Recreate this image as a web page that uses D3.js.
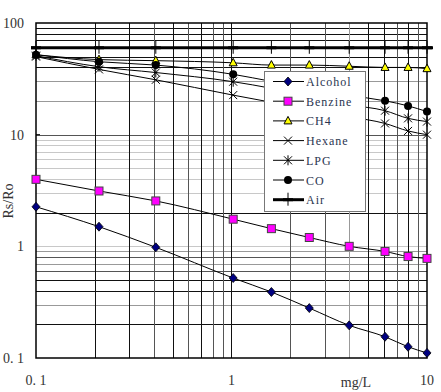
<!DOCTYPE html>
<html><head><meta charset="utf-8">
<script src="https://cdn.jsdelivr.net/npm/d3@7"></script>
<style>body{margin:0;background:#fff}svg{display:block}</style>
</head><body>
<script>
const concentrations = [0.1, 0.21, 0.41, 1.02, 1.6, 2.5, 4, 6.1, 8, 10];
const alcohol = [2.26, 1.50, 0.98, 0.52, 0.39, 0.28, 0.196, 0.155, 0.126, 0.111];
const benzine = [3.98, 3.13, 2.55, 1.75, 1.44, 1.20, 1.0, 0.90, 0.81, 0.78];
const ch4 = [52, 47, 46, 44, 42, 42, 41, 40, 40, 39];
const hexane = [50, 38.4, 31, 22.6, 19.5, 17, 14.5, 12.6, 10.8, 10];
const lpg = [51, 40.6, 36, 29.8, 26, 22, 18.5, 16.4, 14, 13.1];
const co = [52, 45, 42, 34.7, 30, 26, 22.5, 20.1, 18.1, 16.1];
const air = [60, 60, 60, 60, 60, 60, 60, 60, 60, 60];
const seriesNames = ["Alcohol", "Benzine", "CH4", "Hexane", "LPG", "CO", "Air"];
const xTickLabels = ["0. 1", "1", "10"];
const xTickValues = [0.1, 1, 10];
const yTickLabels = ["0. 1", "1", "10", "100"];
const yTickValues = [0.1, 1, 10, 100];
const yTitle = "Rs/Ro";
const xTitle = "mg/L";

const W = 441, H = 392;
const L = 36, R = 427, T = 23, B = 358;
const svg = d3.select("body").append("svg").attr("width", W).attr("height", H);
const x = d3.scaleLog().domain([0.1, 10]).range([L, R]);
const y = d3.scaleLog().domain([0.1, 100]).range([B, T]);

// grid styles
const dark = "#111", mid = "#555", light = "#999", faint = "#c8c8c8";
const vStyle = v => {
  const m = {0.2: dark, 0.3: dark, 0.4: mid, 0.5: dark, 0.6: mid, 0.7: dark, 0.8: mid, 0.9: mid,
             2: mid, 3: mid, 4: light, 5: dark, 6: dark, 7: mid, 8: dark, 9: mid};
  return m[+v.toPrecision(1)] || dark;
};
const hStyle = v => {
  const k = +v.toPrecision(1);
  if (v > 9.9 && v < 10.1) return mid;
  if (v >= 1 && v < 10) return k === 2 ? dark : faint;
  if (v >= 10) return (k === 20 || k === 30) ? light : dark;
  const m = {0.2: dark, 0.3: light, 0.4: dark, 0.5: dark, 0.6: mid, 0.7: light, 0.8: mid, 0.9: light};
  return m[k] || dark;
};
const gv = [];
[0.1, 1].forEach(d => { for (let i = 2; i <= 9; i++) gv.push(+(d * i).toPrecision(2)); });
gv.push(1);
const gh = [];
[0.1, 1, 10].forEach(d => { for (let i = 2; i <= 9; i++) gh.push(+(d * i).toPrecision(2)); });
gh.push(1, 10);

const grid = svg.append("g").attr("shape-rendering", "crispEdges");
grid.selectAll(".gh").data(gh).join("line")
  .attr("x1", L).attr("x2", R).attr("y1", d => Math.round(y(d)) + 0.5).attr("y2", d => Math.round(y(d)) + 0.5)
  .attr("stroke", d => hStyle(d)).attr("stroke-width", 1);
grid.selectAll(".gv").data(gv).join("line")
  .attr("y1", T).attr("y2", B).attr("x1", d => Math.round(x(d)) + 0.5).attr("x2", d => Math.round(x(d)) + 0.5)
  .attr("stroke", d => vStyle(d)).attr("stroke-width", 1);

// frame
svg.append("rect").attr("x", L).attr("y", T).attr("width", R - L).attr("height", B - T)
  .attr("fill", "none").attr("stroke", "#000").attr("stroke-width", 1.5);
svg.append("line").attr("x1", L).attr("x2", L + 4).attr("y1", y(10)).attr("y2", y(10)).attr("stroke", "#000");

// series
const serif = "'Liberation Serif','Times New Roman',serif";
const line = vals => d3.line().curve(d3.curveMonotoneX)
  .x((d, i) => x(concentrations[i])).y(d => y(d))(vals);
const dataSets = [alcohol, benzine, ch4, hexane, lpg, co];
const plot = svg.append("g");
dataSets.forEach(vals => {
  plot.append("path").attr("d", line(vals)).attr("fill", "none").attr("stroke", "#000").attr("stroke-width", 1);
});

function marker(g, type, cx, cy) {
  if (type === 0) {
    g.append("path").attr("d", `M${cx},${cy - 4.5}L${cx + 4},${cy}L${cx},${cy + 4.5}L${cx - 4},${cy}Z`)
      .attr("fill", "#000080").attr("stroke", "#000").attr("stroke-width", 0.8);
  } else if (type === 1) {
    g.append("rect").attr("x", cx - 4).attr("y", cy - 4).attr("width", 8).attr("height", 8)
      .attr("fill", "#ff00ff").attr("stroke", "#444").attr("stroke-width", 1);
  } else if (type === 2) {
    g.append("path").attr("d", `M${cx},${cy - 4.5}L${cx + 4},${cy + 3}L${cx - 4},${cy + 3}Z`)
      .attr("fill", "#ffff00").attr("stroke", "#000").attr("stroke-width", 1);
  } else if (type === 3) {
    g.append("path").attr("d", `M${cx - 4},${cy - 4}L${cx + 4},${cy + 4}M${cx - 4},${cy + 4}L${cx + 4},${cy - 4}`)
      .attr("stroke", "#000").attr("stroke-width", 1);
  } else if (type === 4) {
    g.append("path").attr("d", `M${cx - 4},${cy - 4}L${cx + 4},${cy + 4}M${cx - 4},${cy + 4}L${cx + 4},${cy - 4}M${cx},${cy - 5}L${cx},${cy + 5}`)
      .attr("stroke", "#000").attr("stroke-width", 1);
  } else if (type === 5) {
    g.append("circle").attr("cx", cx).attr("cy", cy).attr("r", 4).attr("fill", "#000");
  } else if (type === 6) {
    g.append("path").attr("d", `M${cx},${cy - 7}L${cx},${cy + 6}`).attr("stroke", "#000").attr("stroke-width", 1);
    g.append("path").attr("d", `M${cx - 5},${cy}L${cx + 5},${cy}`).attr("stroke", "#000").attr("stroke-width", 3);
  }
}
const allSets = [alcohol, benzine, ch4, hexane, lpg, co, air];
[0, 1, 2, 3, 4, 5].forEach(si => {
  allSets[si].forEach((v, i) => marker(plot, si, x(concentrations[i]), y(v)));
});
// Air thick line on top
plot.append("line").attr("x1", x(concentrations[0]) - 5).attr("x2", x(concentrations[concentrations.length - 1]) + 6)
  .attr("y1", y(air[0])).attr("y2", y(air[0])).attr("stroke", "#000").attr("stroke-width", 3);
air.forEach((v, i) => marker(plot, 6, x(concentrations[i]), y(v)));

// legend
const lg = svg.append("g");
lg.append("rect").attr("x", 264.5).attr("y", 71.5).attr("width", 101).attr("height", 140)
  .attr("fill", "#fff").attr("stroke", "#777").attr("stroke-width", 1);
seriesNames.forEach((n, i) => {
  const ly = 81.5 + i * 19.7;
  lg.append("line").attr("x1", 273).attr("x2", 304).attr("y1", ly).attr("y2", ly)
    .attr("stroke", "#000").attr("stroke-width", i === 6 ? 3 : 1);
  marker(lg, i, 288, ly);
  lg.append("text").attr("x", 306).attr("y", ly + 4.5).text(n)
    .attr("font-family", serif).attr("font-size", 12).attr("letter-spacing", 1).attr("fill", "#2a3550");
});

// axis labels
const lab = svg.append("g").attr("font-family", serif).attr("font-size", 14).attr("fill", "#333");
yTickValues.forEach((v, i) => {
  lab.append("text").attr("x", 24).attr("y", y(v) + 5).attr("text-anchor", "end").text(yTickLabels[i]);
});
xTickValues.forEach((v, i) => {
  lab.append("text").attr("x", x(v)).attr("y", 385).attr("text-anchor", "middle").text(xTickLabels[i]);
});
lab.append("text").attr("transform", `translate(13,201) rotate(-90)`).attr("text-anchor", "middle").text(yTitle);
lab.append("text").attr("x", 356).attr("y", 387).attr("text-anchor", "middle").text(xTitle);
</script>
</body></html>
